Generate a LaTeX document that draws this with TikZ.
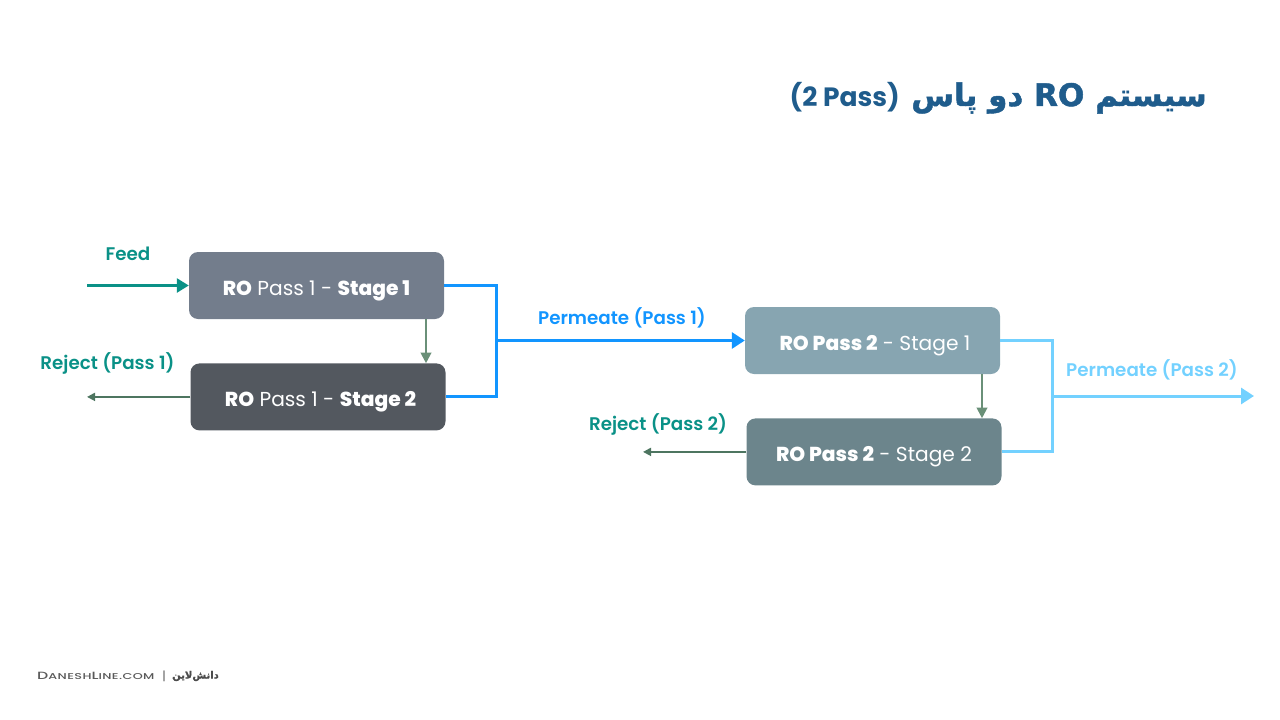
\documentclass[tikz,border=0pt]{standalone}
\usepackage{fontspec}
\setmainfont{Poppins}[BoldFont=Poppins ExtraBold]
\newfontfamily\labelfont{Poppins SemiBold}
\newfontfamily\titlelatin{Poppins Bold}
\newfontfamily\sitefont[FakeStretch=1.5,LetterSpace=5]{Poppins Medium}
\newfontfamily\arabicfont[Script=Arabic,FakeBold=1.5]{DejaVu Sans Bold}
\TeXXeTstate=1
\usetikzlibrary{arrows.meta}
\usetikzlibrary{positioning}
\definecolor{titleblue}{HTML}{1F5C8C}
\definecolor{flowteal}{HTML}{0A9187}
\definecolor{permone}{HTML}{1295FF}
\definecolor{permtwo}{HTML}{73D1FF}
\definecolor{dropgreen}{HTML}{6A9078}
\definecolor{rejgreen}{HTML}{4D7560}
\definecolor{boxa}{HTML}{737D8C}
\definecolor{boxb}{HTML}{53585F}
\definecolor{boxc}{HTML}{87A5B1}
\definecolor{boxd}{HTML}{6C858C}
\tikzset{
  rostage/.style={rounded corners=9pt, text=white, minimum width=255pt,
    minimum height=67pt, inner sep=0pt, text height=19pt, text depth=0pt,
    font=\fontsize{20.2}{24}\selectfont},
  flowlabel/.style={inner sep=0pt, font=\labelfont\fontsize{18.3}{22}\selectfont},
  feedline/.style={draw=flowteal, line width=2.6pt, -{Triangle[length=12pt,width=14pt]}},
  permline/.style={line width=3pt, -{Triangle[length=13pt,width=16pt]}},
  dropline/.style={draw=dropgreen, line width=2pt, -{Triangle[length=10.5pt,width=10.5pt]}},
  rejline/.style={draw=rejgreen, line width=1.8pt, -{Triangle[length=8pt,width=8pt]}}
}
\begin{document}
\begin{tikzpicture}[x=1pt, y=-1pt]
    \useasboundingbox (0,0) rectangle (1280,720);

    \node[rostage, fill=boxa] (s11) at (316.5,285.5) {\textbf{RO} Pass 1 - \textbf{Stage 1}};
    \node[rostage, fill=boxb, below=44pt of s11, xshift=1.5pt] (s12) {\hspace*{5pt}\textbf{RO} Pass 1 - \textbf{Stage 2}};
    \node[rostage, fill=boxc] (s21) at (872.5,340.5) {\hspace*{5pt}\textbf{RO Pass 2} - Stage 1};
    \node[rostage, fill=boxd, below=44pt of s21, xshift=1.5pt] (s22) {\textbf{RO Pass 2} - Stage 2};

    \coordinate (feedin) at (87,285.5);
    \coordinate (rejone) at (87,0);
    \coordinate (rejtwo) at (643,0);
    \coordinate (jone) at (496,340.5);
    \coordinate (jtwo) at (1052,396);
    \coordinate (outtwo) at (1254,396);
    \coordinate (dropone) at (426,0);
    \coordinate (droptwo) at (982,0);

    \draw[feedline] (feedin) -- (s11.west);
    \draw[dropline] (s11.south -| dropone) -- (s12.north -| dropone);
    \draw[rejline] (s12.west) -- (s12.west -| rejone);
    \draw[permone, line width=3pt] (s11.east) -| (jone) |- (s12.east);
    \draw[permline, permone] (jone) -- (s21.west);

    \draw[dropline] (s21.south -| droptwo) -- (s22.north -| droptwo);
    \draw[rejline] (s22.west) -- (s22.west -| rejtwo);
    \draw[permtwo, line width=3pt] (s21.east) -| (jtwo) |- (s22.east);
    \draw[permline, permtwo] (jtwo) -- (outtwo);

    \node[flowlabel, text=flowteal] (feedlabel) at (128,254) {Feed};
    \node[flowlabel, text=flowteal] (rejlabelone) at (107.5,363) {Reject (Pass 1)};
    \node[flowlabel, text=permone] (permlabelone) at (622,318) {Permeate (Pass 1)};
    \node[flowlabel, text=flowteal] (rejlabeltwo) at (658,424) {Reject (Pass 2)};
    \node[flowlabel, text=permtwo] (permlabeltwo) at (1152,370) {Permeate (Pass 2)};

    % title and footer
    \node[anchor=east, inner sep=0pt, text=titleblue, font=\arabicfont\fontsize{31}{36}\selectfont] (title) at (1207,98)
      {\beginR سیستم \beginL RO\endL{} دو پاس\endR};
    \node[anchor=east, inner sep=0pt, text=titleblue, font=\titlelatin\fontsize{26.5}{32}\selectfont] (titlepass) at (900,97)
      {(2 Pass)};
    \node[anchor=west, inner sep=0pt, text=black!65, font=\sitefont\fontsize{8.5}{10}\selectfont] (site) at (37,676)
      {{\fontsize{10.5}{10}\selectfont D}ANESH{\fontsize{10.5}{10}\selectfont L}INE.COM};
    \node[anchor=center, inner sep=0pt, text=black!65, font=\fontsize{12}{12}\selectfont] (sep) at (164,676) {|};
    \node[anchor=west, inner sep=0pt, text=black!70, font=\arabicfont\fontsize{10}{10}\selectfont] (sitefa) at (172,676)
      {\beginR دانش‌لاین\endR};
\end{tikzpicture}
\end{document}
